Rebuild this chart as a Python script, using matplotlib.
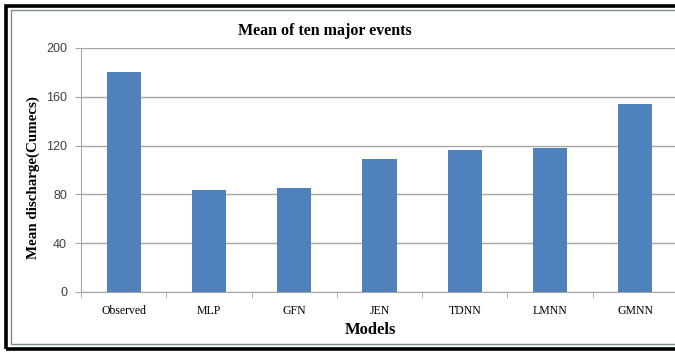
import matplotlib
matplotlib.use("Agg")
import matplotlib.pyplot as plt
from matplotlib.patches import Rectangle
import numpy as np

models = ["Observed", "MLP", "GFN", "JEN", "TDNN", "LMNN", "GMNN"]
mean_discharge = [180, 84, 85, 109, 116, 118, 154]
y_ticks = [0, 40, 80, 120, 160, 200]

W, H = 675, 352
fig = plt.figure(figsize=(W / 100, H / 100), dpi=100)

# outer black frame and inner grey frame
fig.patches.append(Rectangle((6 / W, 3 / H), 1.2, (H - 9) / H, transform=fig.transFigure,
                             fill=False, edgecolor="black", linewidth=2.6))
fig.patches.append(Rectangle((11 / W, 8 / H), 1.2, (H - 18) / H, transform=fig.transFigure,
                             fill=False, edgecolor="#7f8c8d", linewidth=1.0))

left, right = 81 / W, 678 / W
bottom, top = (H - 292) / H, (H - 48) / H
ax = fig.add_axes([left, bottom, right - left, top - bottom])

x = np.arange(len(models))
ax.bar(x, mean_discharge, width=0.4, color="#4f81bd", zorder=3)

ax.set_xlim(-0.5, len(models) - 0.5)
ax.set_ylim(0, 200)
ax.set_yticks(y_ticks)
ax.yaxis.grid(True, color="#a6a6a6", linewidth=1.0, zorder=0)
ax.set_xticks(x)
ax.set_xticklabels(models, fontfamily="Liberation Serif", fontsize=8.5)
ax.set_xticks(np.arange(len(models) + 1) - 0.5, minor=True)
ax.tick_params(axis="x", which="major", length=0, pad=9)
ax.tick_params(axis="x", which="minor", length=4, color="#a6a6a6")
ax.tick_params(axis="y", length=4, color="#a6a6a6", labelsize=9, labelcolor="#404040", pad=6)
for lab in ax.get_yticklabels():
    lab.set_fontfamily("Liberation Sans")

for s in ["top", "right"]:
    ax.spines[s].set_visible(False)
for s in ["left", "bottom"]:
    ax.spines[s].set_color("#a6a6a6")

fig.text(325 / W, 1 - 31 / H, "Mean of ten major events", ha="center", va="center",
         fontfamily="Liberation Serif", fontweight="bold", fontsize=11.5)
fig.text(370 / W, 1 - 330 / H, "Models", ha="center", va="center",
         fontfamily="Liberation Serif", fontweight="bold", fontsize=12)
fig.text(33 / W, 1 - 178 / H, "Mean discharge(Cumecs)", ha="center", va="center",
         rotation=90, fontfamily="Liberation Serif", fontweight="bold", fontsize=10.8)

fig.savefig("out.png", dpi=100)
